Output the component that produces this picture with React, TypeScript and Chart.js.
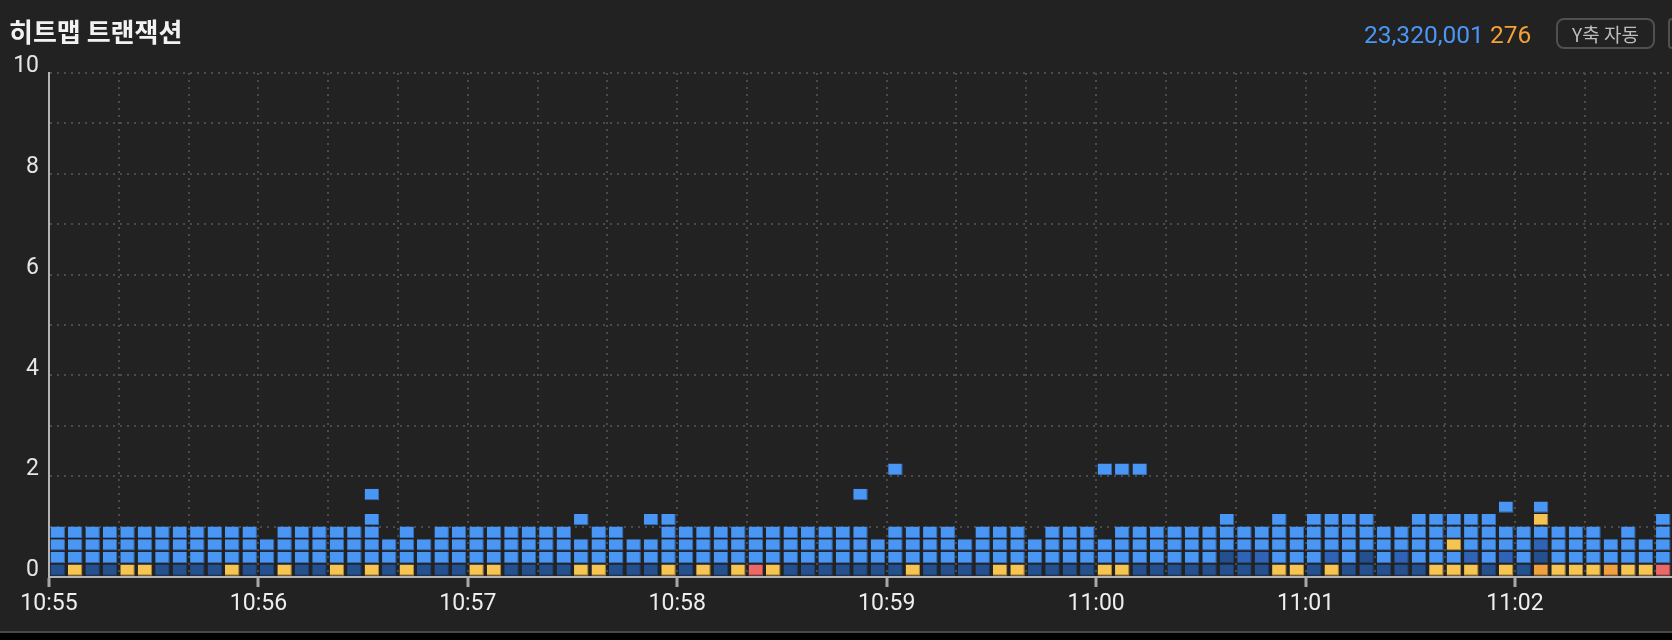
import React, { useEffect, useRef } from "react";
import { Chart, registerables } from "chart.js";

Chart.register(...registerables);

// ---------- header texts ----------
const TITLE = "히트맵 트랜잭션";
const TOTAL_COUNT = "23,320,001";
const ERROR_COUNT = "276";
const Y_MODE_BUTTON = "Y축 자동";

// ---------- axes ----------
const START_HOUR = 10;
const START_MINUTE = 55;
const BUCKET_SECONDS = 5; // one column = 5 s
const X_MAX_SECONDS = 465; // 10:55:00 .. 11:02:45
const X_GRID_STEP = 20;
const X_LABEL_STEP = 60;
const xTickLabels = ["10:55", "10:56", "10:57", "10:58", "10:59", "11:00", "11:01", "11:02"];
const Y_BIN = 0.25; // one row = 0.25 s of response time
const Y_MAX = 10;
const yGridValues = [0, 1, 2, 3, 4, 5, 6, 7, 8, 9, 10];
const yTickLabels = ["0", "2", "4", "6", "8", "10"];

// ---------- heatmap cells ----------
// level per 5-second column (93 columns); one string per 0.25 s row
// 0 = empty, 1 = dark blue, 2 = mid blue, 3 = blue, 4 = yellow, 5 = orange, 6 = red
const row0 = "141144111141 141141414111 441111441114 141464111111 141111441111 441111111144 141111144414 154445446";
const row1 = "333333333333 333333333333 333333333333 333333333333 333333333333 333333312233 323132333232 313333333";
const row2 = "333333333333 333333333333 333333333333 333333333333 333333333333 333333333333 333333334333 323333333";
const row3 = "333333333333 033333303033 333333033003 333333333330 333303330333 033333333333 333333333333 333330303";
const row4 = "000000000000 000000300000 000000300033 000000000000 000000000000 000000030030 333300333330 040000003";
const row5 = "000000000000 000000000000 000000000000 000000000000 000000000000 000000000000 000000000003 030000000";
const row6 = "000000000000 000000300000 000000000000 000000000030 000000000000 000000000000 000000000000 000000000";
const row7 = "000000000000 000000000000 000000000000 000000000000 000000000000 000000000000 000000000000 000000000";
const row8 = "000000000000 000000000000 000000000000 000000000000 300000000000 333000000000 000000000000 000000000";

const levelNames = ["", "낮음", "보통", "많음", "지연", "느림", "매우 느림"];
const levelColors = ["", "#24508f", "#2e63b7", "#4a96f5", "#f5c452", "#f0a03e", "#ec6767"];
const levelBorders = ["", "#1b3d6e", "#244f93", "#336fbd", "#b38c36", "#b0722b", "#ad4a4a"];

const rowStrings = [row0, row1, row2, row3, row4, row5, row6, row7, row8];

function parseRow(s: string): number[] {
  return s.replace(/\s+/g, "").split("").map(Number);
}

function pad2(n: number) {
  return n < 10 ? "0" + n : String(n);
}

function formatTime(offsetSeconds: number) {
  const total = START_HOUR * 60 + START_MINUTE + Math.floor(offsetSeconds / 60);
  return pad2(Math.floor(total / 60)) + ":" + pad2(total % 60);
}

function buildDatasets() {
  const rows = rowStrings.map(parseRow);
  const gap = Y_BIN * 0.1;
  const sets: any[] = [];
  for (let level = 1; level < levelColors.length; level++) {
    const data: any[] = [];
    rows.forEach((cols, r) => {
      cols.forEach((lv, c) => {
        if (lv === level) {
          data.push({
            x: c * BUCKET_SECONDS + BUCKET_SECONDS / 2,
            y: [r * Y_BIN + gap, (r + 1) * Y_BIN],
          });
        }
      });
    });
    sets.push({
      label: levelNames[level],
      data,
      backgroundColor: levelColors[level],
      borderColor: levelBorders[level],
      borderWidth: { top: 0, left: 0, right: 1, bottom: 1 },
      borderSkipped: false,
      grouped: false,
      barPercentage: 0.83,
      categoryPercentage: 1,
      inflateAmount: 0,
    });
  }
  return sets;
}

const FONT = "Roboto, 'Noto Sans CJK KR', sans-serif";
const KFONT = "'Noto Sans CJK KR', Roboto, sans-serif";

function HeatmapChart() {
  const ref = useRef<HTMLCanvasElement | null>(null);
  useEffect(() => {
    if (!ref.current) return;
    const chart = new Chart(ref.current, {
      type: "bar",
      data: { datasets: buildDatasets() },
      options: {
        animation: false,
        responsive: false,
        devicePixelRatio: 1,
        layout: { padding: { top: 73, left: 0, right: 0, bottom: 0 } },
        plugins: { legend: { display: false }, tooltip: { enabled: false }, title: { display: false } },
        scales: {
          x: {
            type: "linear",
            min: 0,
            max: X_MAX_SECONDS,
            offset: false,
            afterBuildTicks: (scale: any) => {
              const ticks = [];
              for (let v = 0; v < X_MAX_SECONDS; v += X_GRID_STEP) ticks.push({ value: v });
              scale.ticks = ticks;
            },
            afterFit: (scale: any) => {
              scale.height = 54;
            },
            grid: {
              offset: false,
              color: "#4b4b4b",
              lineWidth: 2,
              drawTicks: true,
              tickLength: 10,
              tickWidth: 3,
              tickColor: (ctx: any) =>
                ctx.tick && ctx.tick.value % X_LABEL_STEP === 0 ? "#a8a8a8" : "rgba(0,0,0,0)",
            },
            border: { display: true, color: "#b4b4b4", width: 2, dash: [2, 5] },
            ticks: {
              autoSkip: false,
              maxRotation: 0,
              padding: 3,
              color: "#eeeeee",
              font: { family: FONT, size: 23 },
              callback: (v: any) => {
                const n = Number(v);
                if (n % X_LABEL_STEP !== 0) return "";
                return xTickLabels[n / X_LABEL_STEP] ?? formatTime(n);
              },
            },
          },
          y: {
            type: "linear",
            min: 0,
            max: Y_MAX,
            afterBuildTicks: (scale: any) => {
              scale.ticks = yGridValues.map((v) => ({ value: v }));
            },
            afterFit: (scale: any) => {
              scale.width = 49;
            },
            grid: { color: "#4b4b4b", lineWidth: 2, drawTicks: false },
            border: { display: true, color: "#b4b4b4", width: 2, dash: [2, 5] },
            ticks: {
              autoSkip: false,
              padding: 10,
              labelOffset: -6.5,
              color: "#e6e6e6",
              font: { family: FONT, size: 23 },
              callback: (v: any) => {
                const n = Number(v);
                return n % 2 === 0 ? yTickLabels[n / 2] : "";
              },
            },
          },
        },
      } as any,
    });
    return () => chart.destroy();
  }, []);
  return (
    <canvas
      ref={ref}
      width={1672}
      height={631}
      style={{ position: "absolute", left: 0, top: 0, width: 1672, height: 631 }}
    />
  );
}

export default function App() {
  return (
    <div
      style={{
        position: "fixed",
        left: 0,
        top: 0,
        width: 1672,
        height: 640,
        background: "#000",
        overflow: "hidden",
      }}
    >
      <div
        style={{
          position: "absolute",
          left: 0,
          top: 0,
          width: 1672,
          height: 631,
          background: "#222222",
          borderBottom: "2px solid #484848",
        }}
      >
        <HeatmapChart />
        <div
          style={{
            position: "absolute",
            left: 9,
            top: 18,
            fontFamily: KFONT,
            fontWeight: 700,
            fontSize: 26,
            lineHeight: "26px",
            color: "#f2f2f2",
            whiteSpace: "nowrap",
          }}
        >
          {TITLE}
        </div>
        <div
          style={{
            position: "absolute",
            left: 1364,
            top: 22,
            fontFamily: FONT,
            fontSize: 24.5,
            lineHeight: "25px",
            whiteSpace: "nowrap",
          }}
        >
          <span style={{ color: "#4a96f5" }}>{TOTAL_COUNT}</span>{" "}
          <span style={{ color: "#f5a235" }}>{ERROR_COUNT}</span>
        </div>
        <div
          style={{
            position: "absolute",
            left: 1556,
            top: 18,
            width: 99,
            height: 31,
            boxSizing: "border-box",
            border: "2px solid #505050",
            borderRadius: 8,
            color: "#bdbdbd",
            fontFamily: KFONT,
            fontSize: 19,
            display: "flex",
            alignItems: "center",
            justifyContent: "center",
            whiteSpace: "nowrap",
          }}
        >
          {Y_MODE_BUTTON}
        </div>
        <div
          style={{
            position: "absolute",
            left: 1668,
            top: 18,
            width: 60,
            height: 31,
            boxSizing: "border-box",
            border: "2px solid #505050",
            borderRadius: 4,
          }}
        />
      </div>
    </div>
  );
}
